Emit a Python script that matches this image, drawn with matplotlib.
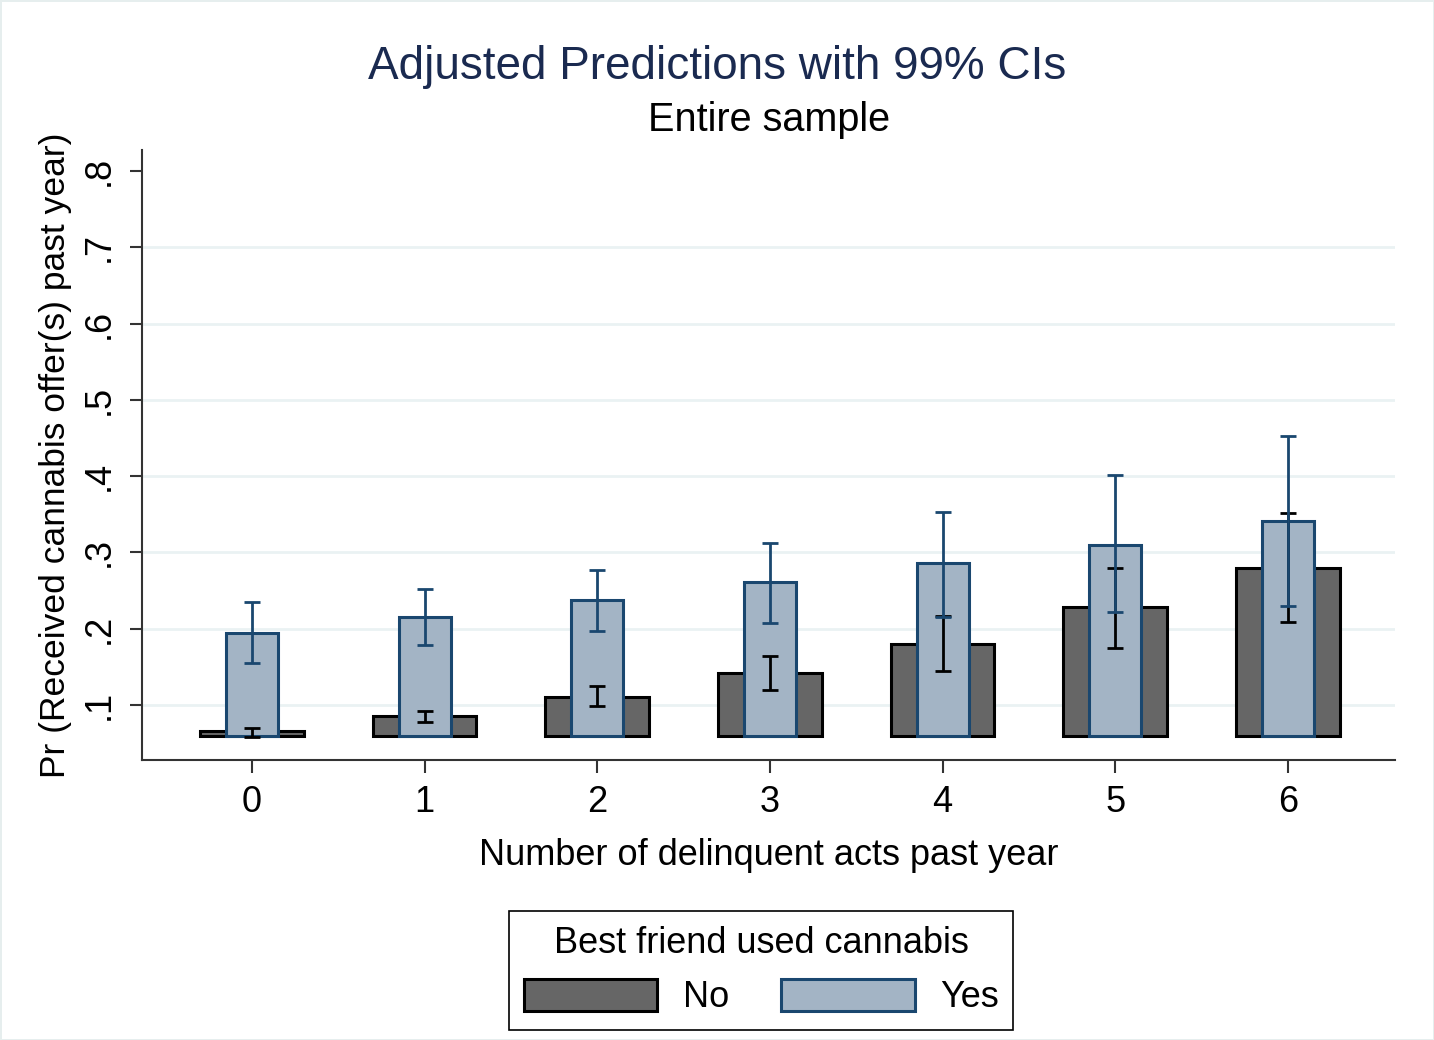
import numpy as np
import matplotlib
matplotlib.use("Agg")
import matplotlib.pyplot as plt
from matplotlib.patches import Patch

plt.rcParams['font.family'] = ['Liberation Sans', 'DejaVu Sans']

# margins predictions by delinquency count and best-friend cannabis use
acts = [0, 1, 2, 3, 4, 5, 6]
pred_no = [0.066, 0.086, 0.110, 0.142, 0.180, 0.228, 0.280]
lo_no = [0.058, 0.078, 0.099, 0.120, 0.145, 0.175, 0.209]
hi_no = [0.070, 0.092, 0.125, 0.164, 0.217, 0.279, 0.352]
pred_yes = [0.195, 0.216, 0.237, 0.261, 0.286, 0.310, 0.341]
lo_yes = [0.155, 0.179, 0.197, 0.208, 0.216, 0.222, 0.230]
hi_yes = [0.235, 0.252, 0.277, 0.313, 0.353, 0.401, 0.452]
base = 0.059

yticks = [0.1, 0.2, 0.3, 0.4, 0.5, 0.6, 0.7, 0.8]
ytick_labels = ['.1', '.2', '.3', '.4', '.5', '.6', '.7', '.8']

c_no, e_no = '#666666', '#000000'
c_yes, e_yes = '#a3b4c5', '#1a476f'

x = np.array(acts)
pred_no, lo_no, hi_no = map(np.array, (pred_no, lo_no, hi_no))
pred_yes, lo_yes, hi_yes = map(np.array, (pred_yes, lo_yes, hi_yes))

fig = plt.figure(figsize=(14.34, 10.4), dpi=100)
fig.patch.set_edgecolor('#e6eeee')
fig.patch.set_linewidth(2)
ax = fig.add_axes([0.099, 0.2692, 0.8738, 0.5866])

ax.bar(x, pred_no - base, bottom=base, width=0.6, color=c_no,
       edgecolor=e_no, linewidth=2.2, zorder=2)
ax.bar(x, pred_yes - base, bottom=base, width=0.3, color=c_yes,
       edgecolor=e_yes, linewidth=2.2, zorder=3)
ax.errorbar(x, pred_no, yerr=[pred_no - lo_no, hi_no - pred_no], fmt='none',
            ecolor=e_no, elinewidth=2, capsize=6, capthick=2, zorder=4)
ax.errorbar(x, pred_yes, yerr=[pred_yes - lo_yes, hi_yes - pred_yes], fmt='none',
            ecolor=e_yes, elinewidth=2, capsize=6, capthick=2, zorder=5)

ax.set_xlim(-0.637, 6.62)
ax.set_ylim(0.0279, 0.8275)
ax.set_xticks(acts)
ax.set_yticks(yticks)
ax.set_yticklabels(ytick_labels, rotation=90, va='center')
for gy in yticks[:-1]:
    ax.axhline(gy, color='#eaf2f3', linewidth=2, zorder=1)

for s in ['top', 'right']:
    ax.spines[s].set_visible(False)
for s in ['left', 'bottom']:
    ax.spines[s].set_color('#333333')
    ax.spines[s].set_linewidth(1.5)
ax.tick_params(axis='both', length=9, width=1.5, color='#333333',
               labelsize=26, pad=9)

ax.set_xlabel('Number of delinquent acts past year', fontsize=26, labelpad=13)
ax.set_ylabel('Pr (Received cannabis offer(s) past year)', fontsize=25.5, labelpad=7)

fig.text(0.5, 0.936, 'Adjusted Predictions with 99% CIs', ha='center',
         va='center', fontsize=33, color='#1a2a50')
fig.text(0.536, 0.885, 'Entire sample', ha='center', va='center', fontsize=28.5)

handles = [Patch(facecolor=c_no, edgecolor=e_no, linewidth=2.2, label='No'),
           Patch(facecolor=c_yes, edgecolor=e_yes, linewidth=2.2, label='Yes')]
leg = fig.legend(handles=handles, loc='center', bbox_to_anchor=(0.531, 0.067),
                 ncol=2, title='Best friend used cannabis', fontsize=26,
                 title_fontsize=26, fancybox=False, edgecolor='#000000',
                 framealpha=1, handlelength=3.7, handleheight=1.0,
                 columnspacing=1.45, handletextpad=0.7, borderpad=0.4)
leg.get_frame().set_linewidth(1.2)

fig.savefig('out.png', dpi=100)
